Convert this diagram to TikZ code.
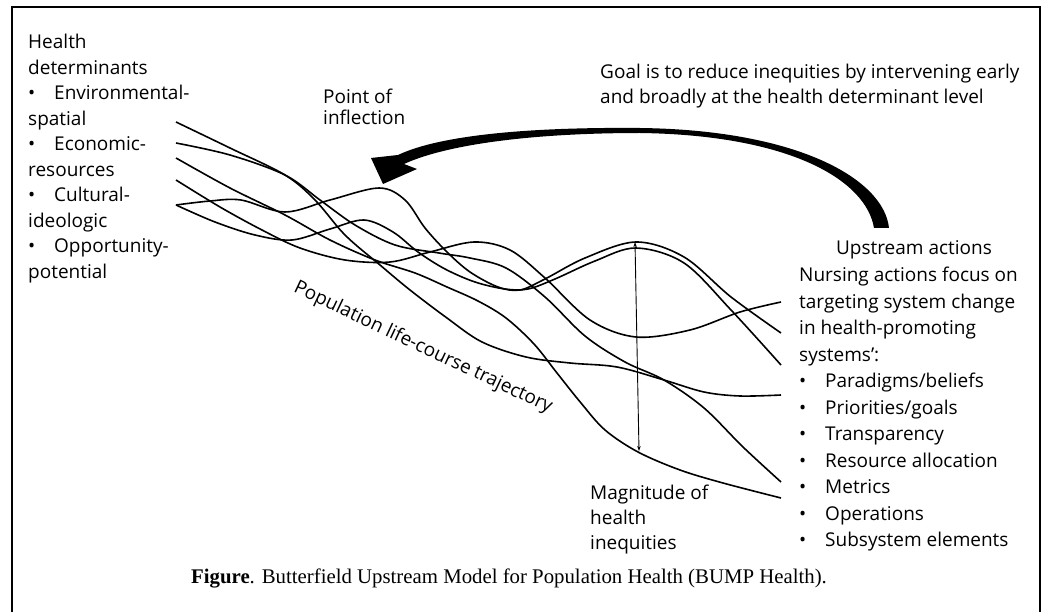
\documentclass[tikz,border=0pt]{standalone}
\usepackage{fontspec}
\setmainfont{Open Sans}
\newfontfamily\capfont{Liberation Serif}
\usetikzlibrary{arrows.meta}

% bullet with a fixed tab before the item text
\newcommand{\blt}[1]{\makebox[26pt][l]{\textbullet}#1}

\begin{document}
\begin{tikzpicture}[
    x=1pt, y=-1pt,
    lbl/.style={inner sep=0pt, align=left, font=\fontsize{19}{25.5}\selectfont},
    wave/.style={line width=1.6pt, line join=round},
    >={Stealth[length=5pt, width=3.5pt]}
]
\useasboundingbox (0,0) rectangle (1046,612);
\clip (0,0) rectangle (1046,612);

% open frame, runs off the bottom
\draw[line width=2.5pt] (12,640) -- (12,7) -- (1040,7) -- (1040,640);

% texts
\node[lbl, anchor=north west] (det) at (28,34)
  {Health\\determinants\\\blt{Environmental-}\\spatial\\\blt{Economic-}\\resources\\
   \blt{Cultural-}\\ideologic\\\blt{Opportunity-}\\potential};
\node[lbl, anchor=north west, font=\fontsize{19}{21}\selectfont] (infl) at (323,89) {Point of\\inflection};
\node[lbl, anchor=north west, font=\fontsize{19}{25}\selectfont] (goal) at (600,64)
  {Goal is to reduce inequities by intervening early\\and broadly at the health determinant level};
\node[lbl, anchor=north] (up) at (914,240) {Upstream actions};
\node[lbl, anchor=north west, font=\fontsize{19}{26.5}\selectfont] (nurse) at (799,267)
  {Nursing actions focus on\\targeting system change\\in health-promoting\\systems’:\\
   \blt{Paradigms/beliefs}\\\blt{Priorities/goals}\\\blt{Transparency}\\
   \blt{Resource allocation}\\\blt{Metrics}\\\blt{Operations}\\\blt{Subsystem elements}};
\node[lbl, anchor=north west, font=\fontsize{19}{25}\selectfont] (mag) at (590,485)
  {Magnitude of\\health\\inequities};
\node[lbl, rotate=-25.3] (traj) at (423,348) {Population life-course trajectory};
\node[inner sep=0pt, anchor=base west, font=\capfont\fontsize{20.8}{24}\selectfont] (cap) at (191,583)
  {\textbf{Figure}. Butterfield Upstream Model for Population Health (BUMP Health).};

% life-course trajectories
\draw[wave] plot[smooth, tension=0.55] coordinates {(176,205) (210,201) (241,200) (285,212) (330,200) (379,188) (405,200) (425,228) (447,252) (470,272) (498,287) (520,290) (545,279) (585,258) (636,242) (684,257) (731,297) (781,333)};
\draw[wave] plot[smooth, tension=0.55] coordinates {(176,205) (215,222) (255,235) (292,240) (330,229) (364,220) (393,232) (418,252) (445,269) (475,282) (505,289) (528,289) (555,279) (595,261) (636,248) (684,263) (731,310) (781,365)};
\draw[wave] plot[smooth, tension=0.55] coordinates {(176,180) (220,207) (262,230) (300,248) (345,260) (390,262) (430,252) (474,242) (510,250) (545,278) (590,320) (636,337) (690,330) (740,312) (781,302)};
\draw[wave] plot[smooth, tension=0.55] coordinates {(176,122) (230,148) (285,175) (315,200) (345,235) (380,265) (410,290) (447,318) (482,342) (526,357) (570,363) (617,367) (664,380) (704,392) (740,396) (781,395)};
\draw[wave] plot[smooth, tension=0.55] coordinates {(176,143) (230,155) (285,175) (320,200) (355,225) (395,245) (439,253) (470,258) (506,268) (545,297) (585,336) (625,362) (664,380) (704,408) (743,447) (781,482)};
\draw[wave] plot[smooth, tension=0.55] coordinates {(176,158) (230,188) (285,215) (330,240) (375,260) (415,273) (447,287) (478,301) (506,318) (534,344) (557,373) (581,403) (605,430) (638,452) (680,470) (723,483) (781,498)};

% magnitude of inequities
\coordinate (hi) at (635,242);
\coordinate (lo) at (639,451);
\draw[<->, line width=0.9pt] (hi) -- (lo);

% swoosh from upstream actions back to the inflection point
\fill (889,228) .. controls (884,180) and (800,130) .. (640,128)
  .. controls (530,127) and (440,135) .. (398,155)
  -- (371,158) -- (383,184) -- (417,169) -- (404,164)
  .. controls (450,143) and (540,133) .. (640,133)
  .. controls (790,135) and (866,180) .. (874,228) -- cycle;
\end{tikzpicture}
\end{document}
